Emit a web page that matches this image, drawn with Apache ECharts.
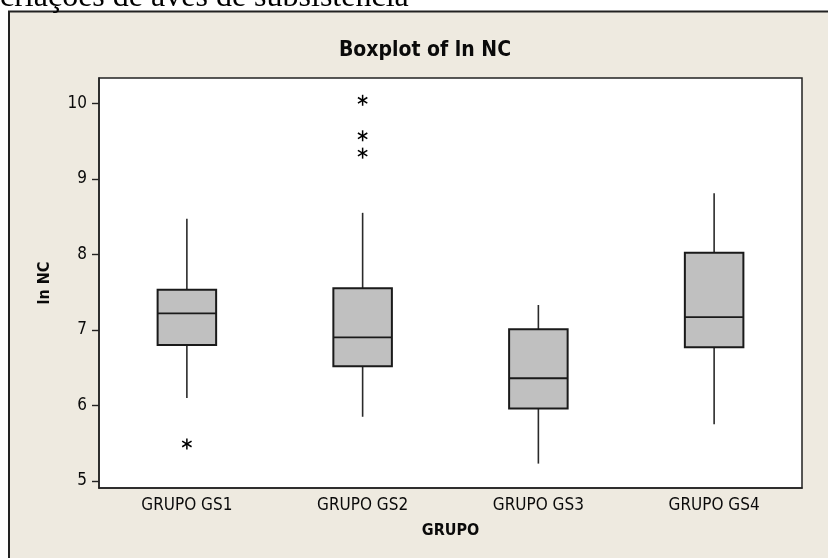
<!DOCTYPE html>
<html>
<head>
<meta charset="utf-8">
<script src="https://cdn.jsdelivr.net/npm/echarts@6/dist/echarts.min.js"></script>
<style>
html,body{margin:0;padding:0;background:#fff;}
#chart{width:828px;height:558px;}
</style>
</head>
<body>
<div id="chart"></div>
<script>
// ---- data ----
var categories = ['GRUPO GS1', 'GRUPO GS2', 'GRUPO GS3', 'GRUPO GS4'];
var whiskerLow  = [6.10, 5.85, 5.23, 5.75];
var q1          = [6.80, 6.52, 5.96, 6.77];
var median      = [7.22, 6.90, 6.36, 7.17];
var q3          = [7.53, 7.55, 7.01, 8.02];
var whiskerHigh = [8.47, 8.55, 7.33, 8.81];
var outlierGroup = [0, 1, 1, 1];
var outlierValue = [5.49, 10.04, 9.57, 9.34];
var yTicks = [5, 6, 7, 8, 9, 10];

var boxData = categories.map(function (c, i) {
  return [i, whiskerLow[i], q1[i], median[i], q3[i], whiskerHigh[i]];
});
var outlierData = outlierGroup.map(function (g, i) { return [g, outlierValue[i]]; });

var FONT = "'DejaVu Sans Condensed', 'DejaVu Sans', sans-serif";
var chart = echarts.init(document.getElementById('chart'), null, {renderer: 'canvas'});

chart.setOption({
  animation: false,
  backgroundColor: '#EEEAE0',
  grid: {
    left: 99, right: 26, top: 78, bottom: 70,
    show: true, backgroundColor: '#ffffff', borderColor: '#222', borderWidth: 1.5
  },
  xAxis: {
    type: 'category',
    data: categories,
    boundaryGap: true,
    name: 'GRUPO',
    nameLocation: 'middle',
    nameGap: 35,
    nameTextStyle: {fontFamily: FONT, fontWeight: 'bold', fontSize: 16, color: '#0a0a0a'},
    axisLine: {lineStyle: {color: '#222', width: 1.5}},
    axisTick: {alignWithLabel: true, length: 6, lineStyle: {color: '#222', width: 1.4}},
    axisLabel: {fontFamily: FONT, fontSize: 17, color: '#0a0a0a', margin: 9},
    splitLine: {show: false}
  },
  yAxis: {
    type: 'value',
    min: 4.907, max: 10.335,
    name: 'ln NC',
    nameLocation: 'middle',
    nameGap: 46,
    nameRotate: 90,
    nameTextStyle: {fontFamily: FONT, fontWeight: 'bold', fontSize: 16, color: '#0a0a0a'},
    axisLine: {show: true, lineStyle: {color: '#222', width: 1.5}},
    axisTick: {show: true, length: 7, customValues: yTicks, lineStyle: {color: '#222', width: 1.4}},
    axisLabel: {fontFamily: FONT, fontSize: 17, color: '#0a0a0a', margin: 12, customValues: yTicks},
    splitLine: {show: false}
  },
  graphic: [
    {type: 'rect', shape: {x: 0, y: 0, width: 828, height: 11}, style: {fill: '#ffffff'}, silent: true},
    {type: 'rect', shape: {x: 0, y: 0, width: 8, height: 558}, style: {fill: '#ffffff'}, silent: true},
    {type: 'line', shape: {x1: 8, y1: 11.5, x2: 828, y2: 11.5}, style: {stroke: '#222', lineWidth: 2}, silent: true},
    {type: 'line', shape: {x1: 9, y1: 11, x2: 9, y2: 558}, style: {stroke: '#222', lineWidth: 2}, silent: true},
    {type: 'text', x: 0, y: -2, silent: true,
      style: {text: 'criações de aves de subsistência', font: "32px 'Liberation Serif', serif", fill: '#000', textVerticalAlign: 'middle', textAlign: 'left'}},
    {type: 'text', x: 425, y: 51, silent: true,
      style: {text: 'Boxplot of ln NC', font: "bold 21px " + FONT, fill: '#0a0a0a', textAlign: 'center', textVerticalAlign: 'middle'}}
  ],
  series: [
    {
      type: 'custom',
      data: boxData,
      encode: {x: 0, y: [1, 2, 3, 4, 5]},
      renderItem: function (params, api) {
        var i = api.value(0);
        var lo = api.coord([i, api.value(1)]);
        var b1 = api.coord([i, api.value(2)]);
        var md = api.coord([i, api.value(3)]);
        var b3 = api.coord([i, api.value(4)]);
        var hi = api.coord([i, api.value(5)]);
        var bw = api.size([1, 0])[0] * 0.333;
        var x = md[0];
        return {
          type: 'group',
          children: [
            {type: 'line', shape: {x1: x, y1: b3[1], x2: x, y2: hi[1]}, style: {stroke: '#2a2a2a', lineWidth: 1.6}},
            {type: 'line', shape: {x1: x, y1: b1[1], x2: x, y2: lo[1]}, style: {stroke: '#2a2a2a', lineWidth: 1.6}},
            {type: 'rect', shape: {x: x - bw / 2, y: b3[1], width: bw, height: b1[1] - b3[1]},
              style: {fill: '#C0C0C0', stroke: '#1a1a1a', lineWidth: 2}},
            {type: 'line', shape: {x1: x - bw / 2, y1: md[1], x2: x + bw / 2, y2: md[1]}, style: {stroke: '#1a1a1a', lineWidth: 1.8}}
          ]
        };
      },
      z: 3
    },
    {
      type: 'custom',
      data: outlierData,
      encode: {x: 0, y: 1},
      renderItem: function (params, api) {
        var p = api.coord([api.value(0), api.value(1)]);
        var r = 5.5, dx = 4.7, dy = 2.8;
        var st = {stroke: '#000', lineWidth: 1.5};
        return {
          type: 'group',
          children: [
            {type: 'line', shape: {x1: p[0], y1: p[1] - r, x2: p[0], y2: p[1] + r}, style: st},
            {type: 'line', shape: {x1: p[0] - dx, y1: p[1] - dy, x2: p[0] + dx, y2: p[1] + dy}, style: st},
            {type: 'line', shape: {x1: p[0] - dx, y1: p[1] + dy, x2: p[0] + dx, y2: p[1] - dy}, style: st}
          ]
        };
      },
      z: 4
    }
  ]
});
</script>
</body>
</html>
